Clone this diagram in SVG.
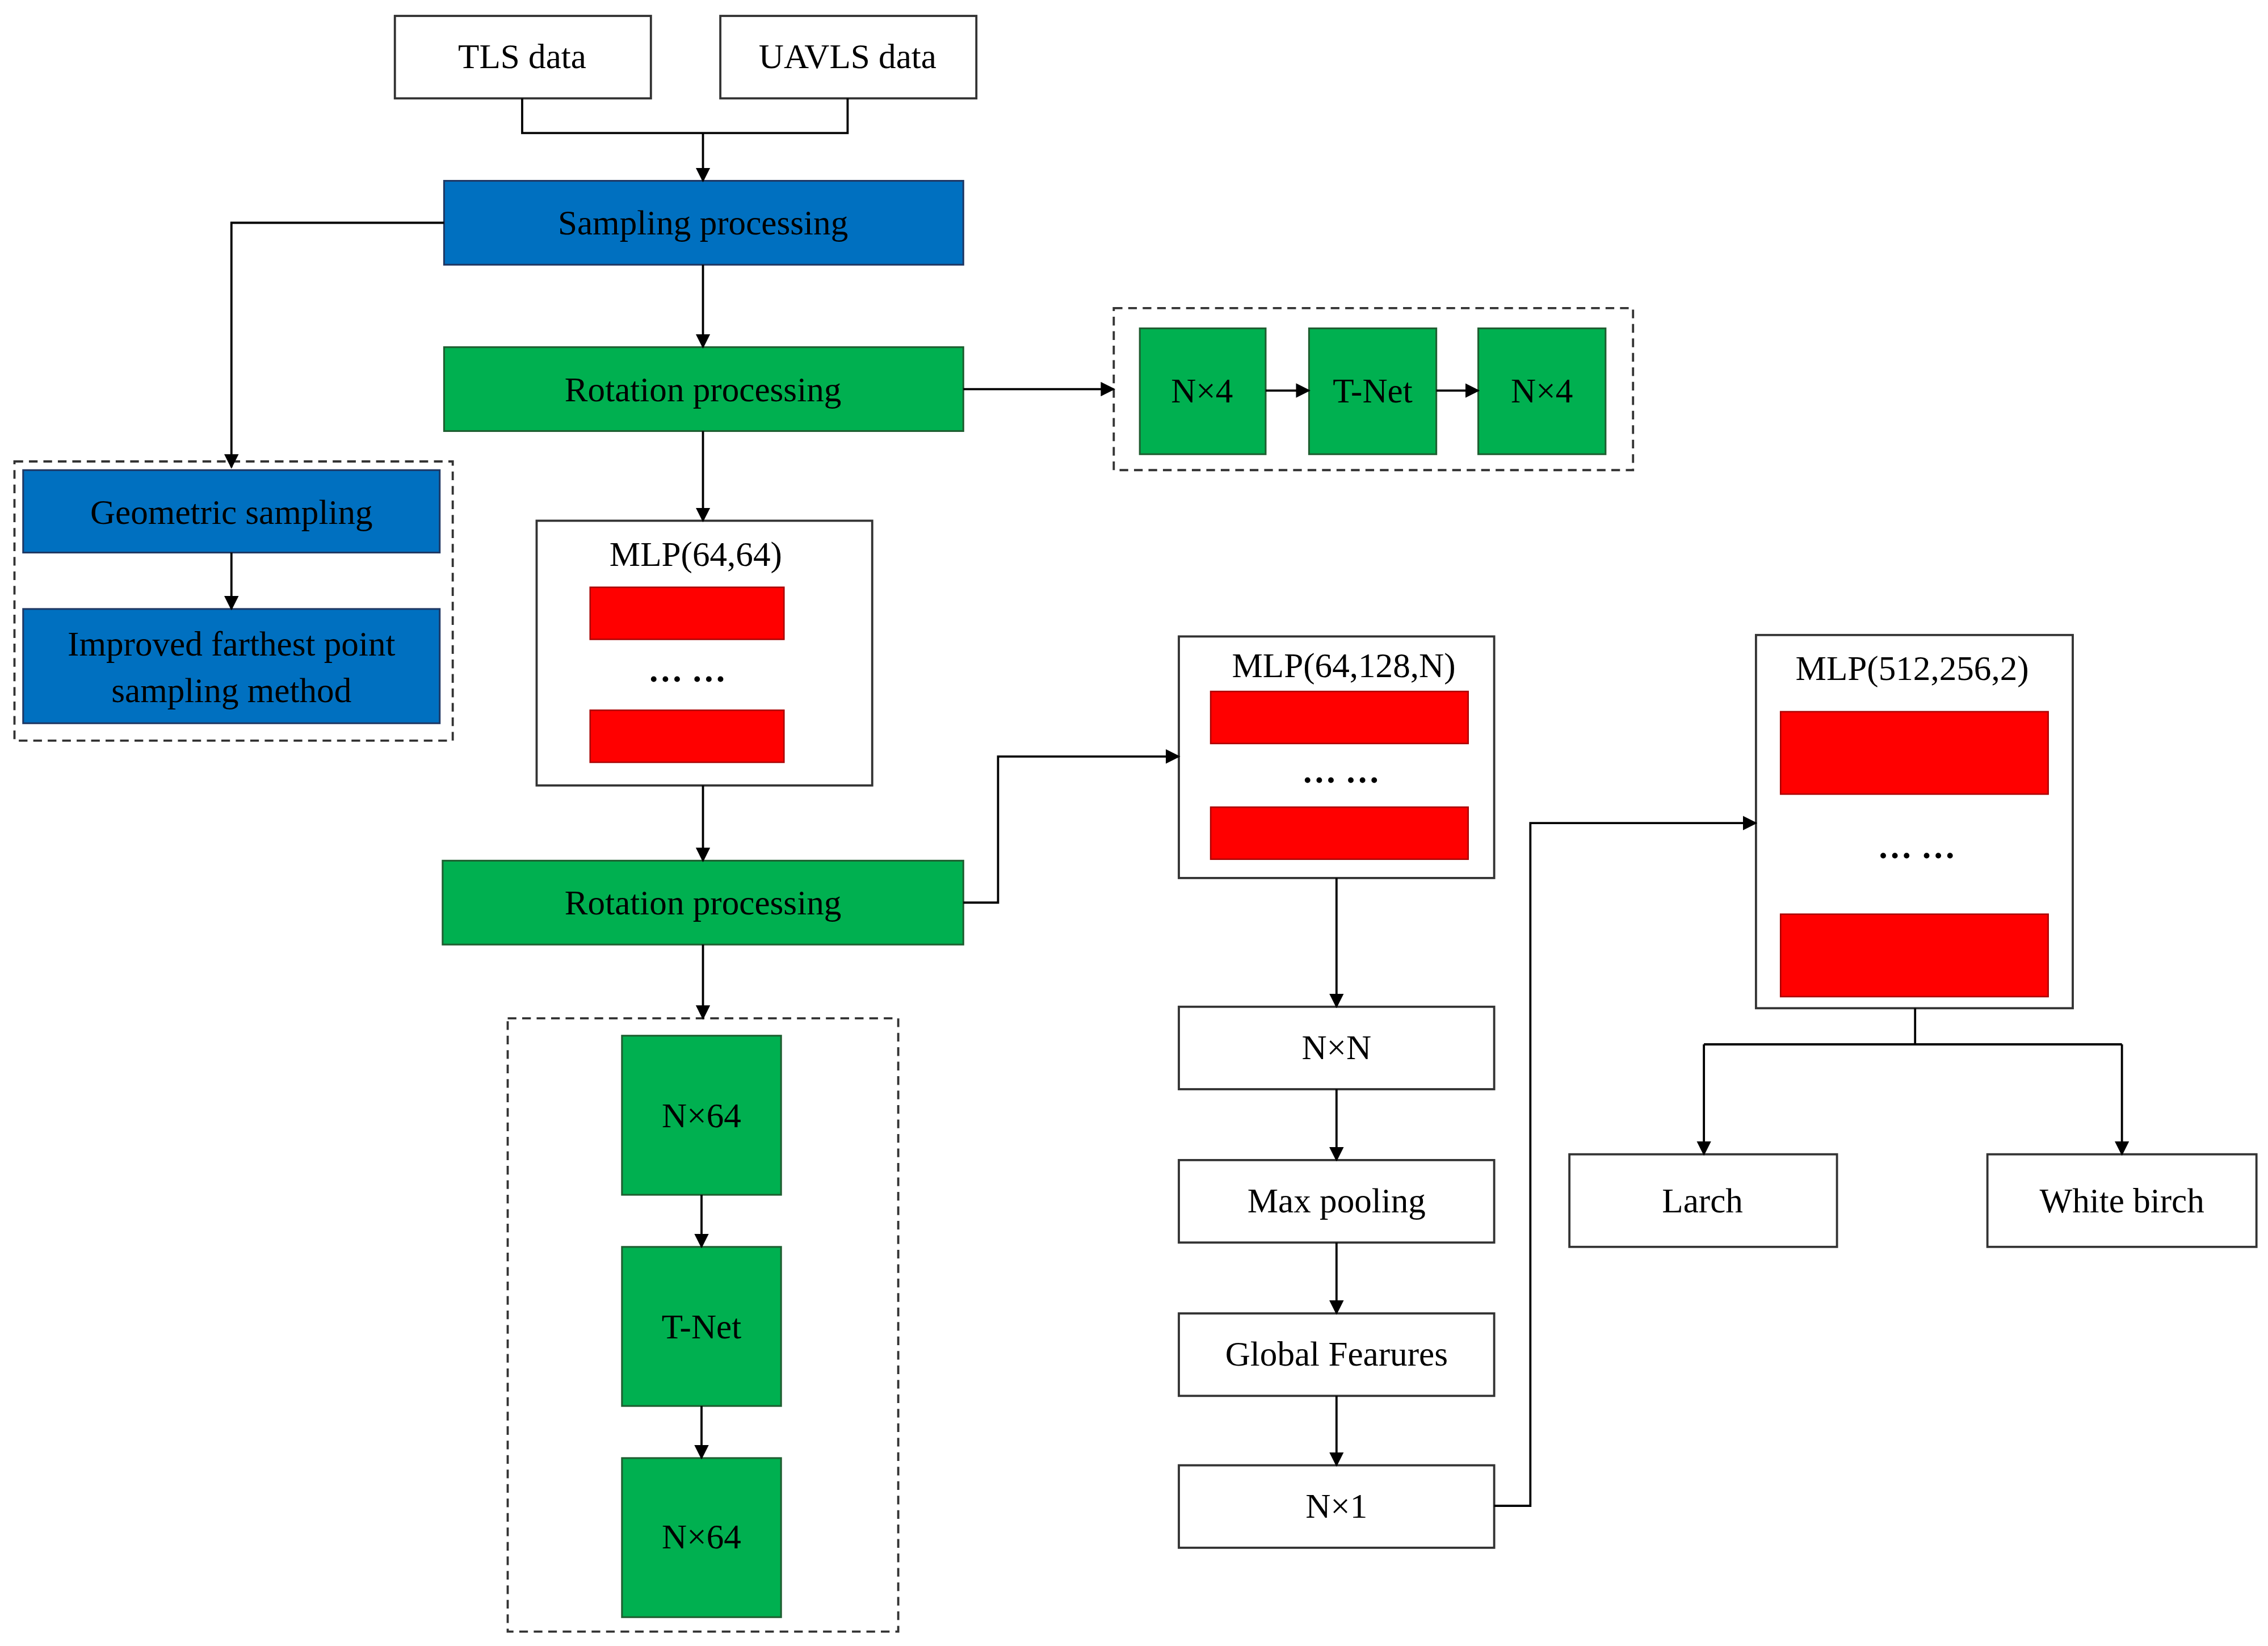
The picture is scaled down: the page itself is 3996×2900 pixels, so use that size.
<svg xmlns="http://www.w3.org/2000/svg" width="3996" height="2900" viewBox="0 0 3996 2900">
<style>
.w{fill:#fff;stroke:#333;stroke-width:1.5}
.b{fill:#0070C0;stroke:#1f3864;stroke-width:1.2}
.g{fill:#00B050;stroke:#1e5e30;stroke-width:1.2}
.r{fill:#FF0000;stroke:#a00;stroke-width:1}
.d{fill:none;stroke:#333;stroke-width:1.5;stroke-dasharray:6,4}
text{font-family:"Liberation Serif","Times New Roman",serif;font-size:24px;fill:#000;text-anchor:middle;dominant-baseline:central}
.c{fill:none;stroke:#000;stroke-width:1.5}
</style>
<defs><marker id="a" markerWidth="10" markerHeight="10" refX="9" refY="5" orient="auto" markerUnits="userSpaceOnUse"><path d="M0,0L10,5L0,10z" fill="#000"/></marker></defs>
<rect width="3996" height="2900" fill="#fff"/>
<g transform="scale(2.5485)">
<g id="tls"><rect class="w" x="273" y="11" width="177" height="57"/><text x="361" y="39">TLS data</text></g>
<g id="uavls"><rect class="w" x="498" y="11" width="177" height="57"/><text x="586" y="39">UAVLS data</text></g>
<g id="sampling"><rect class="b" x="307" y="125" width="359" height="58"/><text x="486" y="154">Sampling processing</text></g>
<g id="rot1"><rect class="g" x="307" y="240" width="359" height="58"/><text x="486" y="269">Rotation processing</text></g>
<g id="tnet1"><rect class="d" x="770" y="213" width="359" height="112"/>
<rect class="g" x="788" y="227" width="87" height="87"/><text x="831" y="270">N×4</text>
<rect class="g" x="905" y="227" width="88" height="87"/><text x="949" y="270">T-Net</text>
<rect class="g" x="1022" y="227" width="88" height="87"/><text x="1066" y="270">N×4</text></g>
<g id="geo"><rect class="d" x="10" y="319" width="303" height="193"/>
<rect class="b" x="16" y="325" width="288" height="57"/><text x="160" y="354">Geometric sampling</text>
<rect class="b" x="16" y="421" width="288" height="79"/><text x="160" y="445">Improved farthest point</text><text x="160" y="477">sampling method</text></g>
<g id="mlp1"><rect class="w" x="371" y="360" width="232" height="183"/><text x="481" y="383">MLP(64,64)</text>
<rect class="r" x="408" y="406" width="134" height="36"/><text x="475" y="463" font-weight="bold">… …</text><rect class="r" x="408" y="491" width="134" height="36"/></g>
<g id="rot2"><rect class="g" x="306" y="595" width="360" height="58"/><text x="486" y="624">Rotation processing</text></g>
<g id="tnet2"><rect class="d" x="351" y="704" width="270" height="424"/>
<rect class="g" x="430" y="716" width="110" height="110"/><text x="485" y="771">N×64</text>
<rect class="g" x="430" y="862" width="110" height="110"/><text x="485" y="917">T-Net</text>
<rect class="g" x="430" y="1008" width="110" height="110"/><text x="485" y="1062">N×64</text></g>
<g id="mlp2"><rect class="w" x="815" y="440" width="218" height="167"/><text x="929" y="460">MLP(64,128,N)</text>
<rect class="r" x="837" y="478" width="178" height="36"/><text x="927" y="533" font-weight="bold">… …</text><rect class="r" x="837" y="558" width="178" height="36"/></g>
<g id="nn"><rect class="w" x="815" y="696" width="218" height="57"/><text x="924" y="724">N×N</text></g>
<g id="maxp"><rect class="w" x="815" y="802" width="218" height="57"/><text x="924" y="830">Max pooling</text></g>
<g id="glob"><rect class="w" x="815" y="908" width="218" height="57"/><text x="924" y="936">Global Fearures</text></g>
<g id="n1"><rect class="w" x="815" y="1013" width="218" height="57"/><text x="924" y="1041">N×1</text></g>
<g id="mlp3"><rect class="w" x="1214" y="439" width="219" height="258"/><text x="1322" y="462">MLP(512,256,2)</text>
<rect class="r" x="1231" y="492" width="185" height="57"/><text x="1325" y="585" font-weight="bold">… …</text><rect class="r" x="1231" y="632" width="185" height="57"/></g>
<g id="larch"><rect class="w" x="1085" y="798" width="185" height="64"/><text x="1177" y="830">Larch</text></g>
<g id="birch"><rect class="w" x="1374" y="798" width="186" height="64"/><text x="1467" y="830">White birch</text></g>
<g id="connectors">
<path class="c" d="M361,68V92H586V68"/>
<path class="c" d="M486,92V125" marker-end="url(#a)"/>
<path class="c" d="M307,154H160V323" marker-end="url(#a)"/>
<path class="c" d="M486,183V240" marker-end="url(#a)"/>
<path class="c" d="M666,269H770" marker-end="url(#a)"/>
<path class="c" d="M875,270H905" marker-end="url(#a)"/>
<path class="c" d="M993,270H1022" marker-end="url(#a)"/>
<path class="c" d="M160,382V421" marker-end="url(#a)"/>
<path class="c" d="M486,298V360" marker-end="url(#a)"/>
<path class="c" d="M486,543V595" marker-end="url(#a)"/>
<path class="c" d="M666,624H690V523H815" marker-end="url(#a)"/>
<path class="c" d="M486,653V704" marker-end="url(#a)"/>
<path class="c" d="M485,826V862" marker-end="url(#a)"/>
<path class="c" d="M485,972V1008" marker-end="url(#a)"/>
<path class="c" d="M924,607V696" marker-end="url(#a)"/>
<path class="c" d="M924,753V802" marker-end="url(#a)"/>
<path class="c" d="M924,859V908" marker-end="url(#a)"/>
<path class="c" d="M924,965V1013" marker-end="url(#a)"/>
<path class="c" d="M1033,1041H1058V569H1214" marker-end="url(#a)"/>
<path class="c" d="M1324,697V722"/>
<path class="c" d="M1178,722H1467"/>
<path class="c" d="M1178,722V798" marker-end="url(#a)"/>
<path class="c" d="M1467,722V798" marker-end="url(#a)"/>
</g>
</g>
</svg>
